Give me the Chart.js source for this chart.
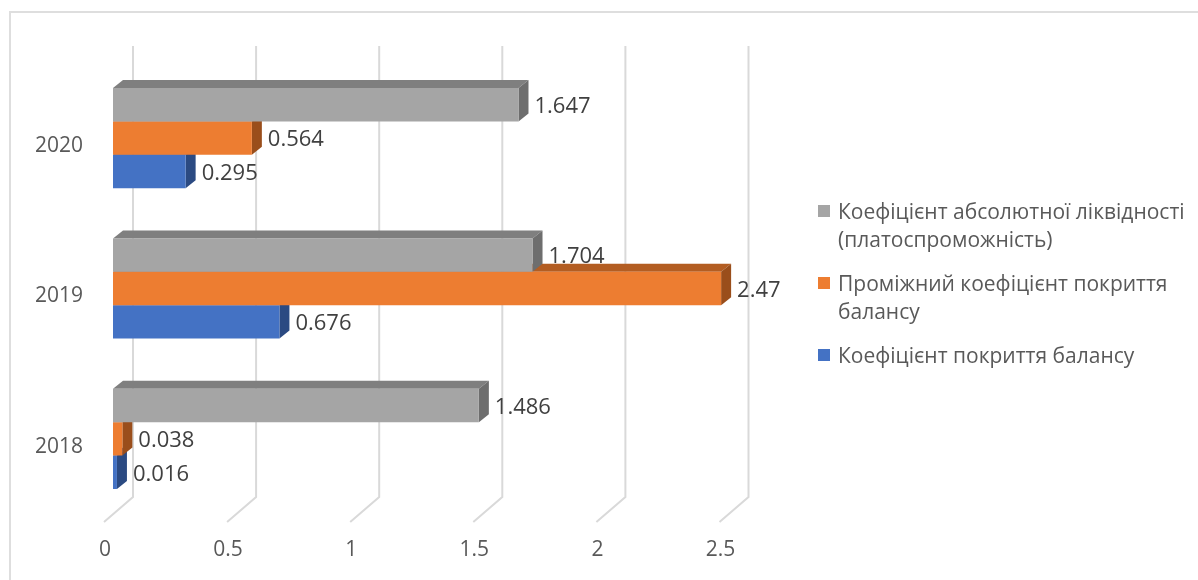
<!DOCTYPE html>
<html>
<head>
<meta charset="utf-8">
<script src="https://cdn.jsdelivr.net/npm/chart.js@4/dist/chart.umd.min.js"></script>
<style>
  html, body { margin:0; padding:0; background:#fff; overflow:hidden; }
  #wrap { position:relative; width:1198px; height:580px; }
  #frame { position:absolute; left:9px; top:11px; width:1200px; height:600px;
    border-left:2px solid #dedede; border-top:2px solid #dedede; }
  canvas { position:absolute; left:0; top:0; }
  #legend { position:absolute; left:818px; top:197px; font-family:"Open Sans", sans-serif;
    font-size:21px; color:#595959; line-height:28px; }
  #legend .item { display:flex; align-items:flex-start; margin-bottom:16px; }
  #legend .box { width:12px; height:12px; margin:8px 8px 0 0; flex:none; }
</style>
</head>
<body>
<div id="wrap">
  <div id="frame"></div>
  <canvas id="chart" width="1198" height="580"></canvas>
  <div id="legend"></div>
</div>
<script>
// ── data ────────────────────────────────────────────────
const years = ["2020", "2019", "2018"];
const absLiquidity = [1.647, 1.704, 1.486];
const interimCoverage = [0.564, 2.47, 0.038];
const coverage = [0.295, 0.676, 0.016];
const seriesNames = [
  ["Коефіцієнт абсолютної ліквідності", "(платоспроможність)"],
  ["Проміжний коефіцієнт покриття", "балансу"],
  ["Коефіцієнт покриття балансу"],
];
const xTicks = [0, 0.5, 1, 1.5, 2, 2.5];

// front, top, side shades
const SHADES = [
  ["#a5a5a5", "#7f7f7f", "#6e6e6e"],
  ["#ed7d31", "#b35d22", "#9a4e1b"],
  ["#4472c4", "#32579a", "#2b4a82"],
];
const FONT = "\"Open Sans\", sans-serif";
const DEPTH = { x: 10, y: 8 };      // bar depth
const WALL = { x: 20, y: 17 };      // back wall offset
const FLOOR = { x: -9, y: 8 };      // floor front offset

// back-wall gridlines + 3d faces, drawn under the front faces
const threeD = {
  id: "threeD",
  beforeDatasetsDraw(chart){
    const { ctx, chartArea: a, scales: { x } } = chart;
    ctx.save();
    ctx.strokeStyle = "#d9d9d9"; ctx.lineWidth = 2;
    xTicks.forEach(v => {
      const px = x.getPixelForValue(v);
      ctx.beginPath();
      ctx.moveTo(px + WALL.x, a.top - WALL.y);
      ctx.lineTo(px + WALL.x, a.bottom - WALL.y);
      ctx.lineTo(px + FLOOR.x, a.bottom + FLOOR.y);
      ctx.stroke();
    });
    for (let d = chart.data.datasets.length - 1; d >= 0; d--){
      const [, top, side] = SHADES[d];
      chart.getDatasetMeta(d).data.forEach(bar => {
        const t = bar.y - bar.height / 2, b = bar.y + bar.height / 2;
        ctx.fillStyle = top;
        ctx.beginPath();
        ctx.moveTo(bar.base, t);
        ctx.lineTo(bar.base + DEPTH.x, t - DEPTH.y);
        ctx.lineTo(bar.x + DEPTH.x, t - DEPTH.y);
        ctx.lineTo(bar.x, t);
        ctx.closePath(); ctx.fill();
        ctx.fillStyle = side;
        ctx.beginPath();
        ctx.moveTo(bar.x, t);
        ctx.lineTo(bar.x + DEPTH.x, t - DEPTH.y);
        ctx.lineTo(bar.x + DEPTH.x, b - DEPTH.y);
        ctx.lineTo(bar.x, b);
        ctx.closePath(); ctx.fill();
      });
    }
    ctx.restore();
  },
  afterDatasetsDraw(chart){
    const { ctx } = chart;
    ctx.save();
    ctx.font = "22px " + FONT;
    ctx.fillStyle = "#404040";
    ctx.textAlign = "left"; ctx.textBaseline = "middle";
    chart.data.datasets.forEach((ds, d) => {
      chart.getDatasetMeta(d).data.forEach((bar, i) => {
        ctx.fillText(String(ds.data[i]), bar.x + DEPTH.x + 6, bar.y + 2);
      });
    });
    ctx.restore();
  },
};

const sets = [absLiquidity, interimCoverage, coverage];
new Chart(document.getElementById("chart"), {
  type: "bar",
  data: {
    labels: years,
    datasets: sets.map((data, i) => ({
      label: seriesNames[i].join(" "),
      data,
      backgroundColor: SHADES[i][0],
      borderWidth: 0,
      categoryPercentage: 2 / 3,
      barPercentage: 1,
    })),
  },
  options: {
    indexAxis: "y",
    responsive: false,
    animation: false,
    layout: { padding: { top: 63, right: 469.5, left: 0, bottom: 0 } },
    plugins: { legend: { display: false }, tooltip: { enabled: false } },
    scales: {
      x: {
        min: 0, max: 2.5,
        afterFit: s => { s.height = 66; },
        afterBuildTicks: s => { s.ticks = xTicks.map(v => ({ value: v })); },
        grid: { display: false, drawTicks: false },
        border: { display: false },
        ticks: { color: "#595959", font: { family: FONT, size: 21 }, padding: 23, labelOffset: -8,
          callback: v => String(v) },
      },
      y: {
        afterFit: s => { s.width = 113; },
        grid: { display: false, drawTicks: false },
        border: { display: false },
        ticks: { color: "#595959", font: { family: FONT, size: 21 }, padding: 30, labelOffset: 8 },
      },
    },
  },
  plugins: [threeD],
});

// legend
document.getElementById("legend").innerHTML = seriesNames.map((lines, i) => `
  <div class="item"><span class="box" style="background:${SHADES[i][0]}"></span>
  <div>${lines.join("<br>")}</div></div>`).join("");
</script>
</body>
</html>
